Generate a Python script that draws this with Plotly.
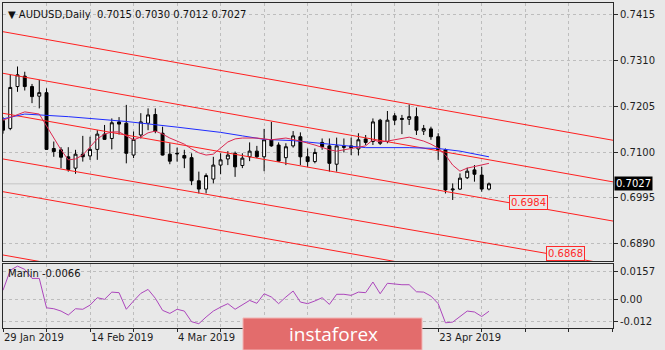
import plotly.graph_objects as go

# ---- AUDUSD daily bars (bar 0 = 29 Jan 2019) ----
bars = list(range(68))
opens = [0.7172, 0.7154, 0.7250, 0.7274, 0.7250, 0.7228, 0.7236, 0.7108, 0.7105, 0.7089,
         0.7063, 0.7095, 0.7091, 0.7106, 0.7141, 0.7131, 0.7169, 0.7166, 0.7093, 0.7139,
         0.7166, 0.7186, 0.7143, 0.7095, 0.7097, 0.7092, 0.7087, 0.7034, 0.7015, 0.7038,
         0.7070, 0.7084, 0.7097, 0.7069, 0.7089, 0.7102, 0.7089, 0.7128, 0.7116, 0.7087,
         0.7114, 0.7135, 0.7089, 0.7078, 0.7122, 0.7114, 0.7072, 0.7113, 0.7114, 0.7107,
         0.7130, 0.7124, 0.7173, 0.7124, 0.7183, 0.7177, 0.7175, 0.7181, 0.7148, 0.7153,
         0.7135, 0.7105, 0.7013, 0.7015, 0.7041, 0.7059, 0.7047, 0.7015]
highs = [0.7180, 0.7277, 0.7296, 0.7284, 0.7256, 0.7265, 0.7246, 0.7124, 0.7111, 0.7111,
         0.7105, 0.7137, 0.7135, 0.7150, 0.7162, 0.7177, 0.7180, 0.7208, 0.7147, 0.7189,
         0.7200, 0.7200, 0.7158, 0.7120, 0.7110, 0.7105, 0.7097, 0.7055, 0.7051, 0.7089,
         0.7097, 0.7102, 0.7101, 0.7097, 0.7122, 0.7114, 0.7153, 0.7169, 0.7122, 0.7120,
         0.7148, 0.7145, 0.7108, 0.7108, 0.7131, 0.7131, 0.7133, 0.7131, 0.7133, 0.7143,
         0.7139, 0.7177, 0.7176, 0.7194, 0.7189, 0.7185, 0.7209, 0.7202, 0.7162, 0.7158,
         0.7143, 0.7108, 0.7028, 0.7051, 0.7064, 0.7070, 0.7066, 0.7030]
lows = [0.7142, 0.7150, 0.7238, 0.7241, 0.7212, 0.7200, 0.7105, 0.7089, 0.7063, 0.7055,
        0.7050, 0.7078, 0.7082, 0.7082, 0.7128, 0.7106, 0.7140, 0.7074, 0.7086, 0.7131,
        0.7150, 0.7143, 0.7092, 0.7072, 0.7078, 0.7063, 0.7024, 0.7005, 0.7005, 0.7028,
        0.7049, 0.7070, 0.7043, 0.7063, 0.7079, 0.7086, 0.7056, 0.7112, 0.7078, 0.7070,
        0.7110, 0.7070, 0.7066, 0.7074, 0.7105, 0.7055, 0.7055, 0.7099, 0.7093, 0.7092,
        0.7116, 0.7116, 0.7116, 0.7120, 0.7162, 0.7141, 0.7162, 0.7139, 0.7139, 0.7128,
        0.7082, 0.7005, 0.6990, 0.7013, 0.7038, 0.7032, 0.7009, 0.7012]
closes = [0.7150, 0.7248, 0.7277, 0.7250, 0.7227, 0.7236, 0.7106, 0.7101, 0.7088, 0.7060,
          0.7095, 0.7089, 0.7106, 0.7141, 0.7129, 0.7167, 0.7164, 0.7097, 0.7129, 0.7169,
          0.7185, 0.7148, 0.7093, 0.7079, 0.7096, 0.7086, 0.7034, 0.7015, 0.7046, 0.7070,
          0.7082, 0.7093, 0.7066, 0.7086, 0.7102, 0.7089, 0.7128, 0.7114, 0.7079, 0.7112,
          0.7137, 0.7089, 0.7078, 0.7099, 0.7112, 0.7074, 0.7114, 0.7111, 0.7110, 0.7128,
          0.7122, 0.7169, 0.7120, 0.7173, 0.7173, 0.7175, 0.7181, 0.7150, 0.7154, 0.7135,
          0.7105, 0.7013, 0.7015, 0.7040, 0.7056, 0.7049, 0.7015, 0.7027]

# ---- Marlin oscillator ----
marlin = [0.0050, 0.0161, 0.0184, 0.0166, 0.0116, 0.0116, -0.0047, -0.0052, -0.0065, -0.0087,
          -0.0052, -0.0055, -0.0032, 0.0009, 0.0000, 0.0040, 0.0037, -0.0055, -0.0009, 0.0033,
          0.0055, 0.0006, -0.0061, -0.0078, -0.0055, -0.0065, -0.0124, -0.0135, -0.0098, -0.0065,
          -0.0043, -0.0024, -0.0055, -0.0028, -0.0006, -0.0022, 0.0031, 0.0013, -0.0024, 0.0013,
          0.0046, -0.0015, -0.0024, -0.0009, 0.0009, -0.0028, 0.0028, 0.0028, 0.0022, 0.0040,
          0.0037, 0.0096, 0.0031, 0.0089, 0.0083, 0.0081, 0.0081, 0.0042, 0.0040, 0.0018,
          -0.0024, -0.0130, -0.0126, -0.0093, -0.0065, -0.0070, -0.0095, -0.0066]

# ---- moving averages ----
slow_ma_bars = [0, 3, 9, 17, 24, 30, 33, 36, 40, 43, 47, 50, 56, 60, 63, 67]
slow_ma = [0.7176, 0.7187, 0.7181, 0.7170, 0.7157, 0.7145, 0.7137, 0.7129, 0.7126, 0.7121,
           0.7115, 0.7110, 0.7110, 0.7108, 0.7102, 0.7089]
fast_ma_bars = [0, 3, 5, 6, 7, 8, 9, 10, 11, 12, 13, 14, 15, 16, 17, 18, 19, 20, 21, 22,
                23, 24, 25, 26, 27, 28, 29, 30, 31, 32, 33, 35, 37, 39, 41, 43, 45, 46, 47, 48,
                50, 51, 52, 53, 55, 56, 58, 59, 60, 61, 62, 63, 64, 65, 66, 67]
fast_ma = [0.7173, 0.7192, 0.7187, 0.7160, 0.7131, 0.7105, 0.7082, 0.7084, 0.7093, 0.7112,
           0.7130, 0.7141, 0.7146, 0.7146, 0.7137, 0.7128, 0.7134, 0.7144, 0.7148, 0.7141,
           0.7132, 0.7125, 0.7118, 0.7107, 0.7098, 0.7093, 0.7095, 0.7109, 0.7123, 0.7130,
           0.7132, 0.7132, 0.7128, 0.7132, 0.7125, 0.7116, 0.7105, 0.7102, 0.7105, 0.7107,
           0.7114, 0.7128, 0.7123, 0.7125, 0.7130, 0.7134, 0.7125, 0.7118, 0.7109, 0.7093,
           0.7070, 0.7056, 0.7063, 0.7067, 0.7070, 0.7074]

# ---- descending channel lines: price at the first and last bar position ----
channel_bars = [0, 84.1]
channel_lines = [
    [0.73758, 0.71269],
    [0.72804, 0.70315],
    [0.71887, 0.69417],
    [0.70840, 0.68411],
    [0.70090, 0.67600],
    [0.68639, 0.66150],
]
target_bars = [69.7, 74.8]
target_levels = [0.6984, 0.6868]

# ---- axis ticks ----
date_ticks = [0, 12, 24, 60]
date_labels = ["29 Jan 2019", "14 Feb 2019", "4 Mar 2019", "23 Apr 2019"]
grid_bars = list(range(0, 85, 6))
price_ticks = [0.6890, 0.6995, 0.7100, 0.7205, 0.7310, 0.7415]
marlin_ticks = [-0.012, 0.0, 0.0157]
marlin_labels = ["-0.012", "0.00", "0.0157"]

W, H = 665, 350
BG = "#e8e8e8"
GRID = "#bdbdbd"
FRAME = "#2a2a2a"
FONT = "DejaVu Sans"

fig = go.Figure()

for line in channel_lines:
    fig.add_trace(go.Scatter(x=channel_bars, y=line, mode="lines",
                             line=dict(color="#ff1f1f", width=1),
                             hoverinfo="skip", xaxis="x", yaxis="y"))

fig.add_trace(go.Scatter(x=slow_ma_bars, y=slow_ma, mode="lines",
                         line=dict(color="#1f2cff", width=1),
                         hoverinfo="skip", xaxis="x", yaxis="y"))
fig.add_trace(go.Scatter(x=fast_ma_bars, y=fast_ma, mode="lines",
                         line=dict(color="#dc2850", width=1),
                         hoverinfo="skip", xaxis="x", yaxis="y"))

fig.add_trace(go.Candlestick(
    x=bars, open=opens, high=highs, low=lows, close=closes,
    increasing=dict(line=dict(color="#000000", width=1), fillcolor="#ffffff"),
    decreasing=dict(line=dict(color="#000000", width=1), fillcolor="#000000"),
    whiskerwidth=0, xaxis="x", yaxis="y", hoverinfo="skip"))

fig.add_trace(go.Scatter(x=bars, y=marlin, mode="lines",
                         line=dict(color="#ac46bc", width=1),
                         hoverinfo="skip", xaxis="x2", yaxis="y2"))

x_dom = [3 / W, 613 / W]
xrange = [0, 84.1]
axis_font = dict(family=FONT, size=10, color="#1e1e1e")

fig.update_layout(
    width=W, height=H,
    margin=dict(l=0, r=0, t=0, b=0),
    paper_bgcolor=BG, plot_bgcolor=BG,
    showlegend=False,
    boxgap=0.42,
    font=axis_font,
    xaxis=dict(domain=x_dom, range=xrange, anchor="y",
               tickvals=grid_bars, showticklabels=False, ticks="",
               showgrid=True, gridcolor=GRID, griddash="3px,3px", gridwidth=1,
               showline=True, mirror=True, linecolor=FRAME, linewidth=1,
               zeroline=False, rangeslider=dict(visible=False), fixedrange=True),
    yaxis=dict(domain=[1 - 261 / H, 1 - 3 / H], range=[0.68501, 0.74416],
               anchor="x", side="right",
               tickvals=price_ticks, ticktext=[f"{p:.4f}" for p in price_ticks],
               ticks="outside", ticklen=4, tickcolor=FRAME, tickfont=axis_font,
               showgrid=True, gridcolor=GRID, griddash="3px,3px", gridwidth=1,
               showline=True, mirror=True, linecolor=FRAME, linewidth=1,
               zeroline=False, fixedrange=True),
    xaxis2=dict(domain=x_dom, range=xrange, anchor="y2",
                tickvals=grid_bars,
                ticktext=[date_labels[date_ticks.index(b)] if b in date_ticks else ""
                          for b in grid_bars],
                ticklabelposition="outside right",
                ticks="outside", ticklen=3, tickcolor=FRAME, tickfont=axis_font,
                showgrid=True, gridcolor=GRID, griddash="3px,3px", gridwidth=1,
                showline=True, mirror=True, linecolor=FRAME, linewidth=1,
                zeroline=False, fixedrange=True),
    yaxis2=dict(domain=[1 - 328 / H, 1 - 264 / H], range=[-0.01588, 0.01958],
                anchor="x2", side="right",
                tickvals=marlin_ticks, ticktext=marlin_labels,
                ticks="outside", ticklen=4, tickcolor=FRAME, tickfont=axis_font,
                showgrid=True, gridcolor=GRID, griddash="3px,3px", gridwidth=1,
                showline=True, mirror=True, linecolor=FRAME, linewidth=1,
                zeroline=False, fixedrange=True),
)

# last-price line across the price panel
fig.add_shape(type="line", xref="x", yref="y", x0=xrange[0], x1=xrange[1],
              y0=closes[-1], y1=closes[-1], line=dict(color="#c4c4c4", width=1),
              layer="below")

annotations = [
    dict(text="\u25bc AUDUSD,Daily\u00a0\u00a0" + " ".join(
             f"{v:.4f}" for v in (opens[-1], highs[-1], lows[-1], closes[-1])),
         xref="paper", yref="paper", x=6 / W, y=1 - 14 / H,
         xanchor="left", yanchor="middle", showarrow=False,
         font=dict(family=FONT, size=10, color="#111111")),
    dict(text=f"Marlin {marlin[-1]:.4f}",
         xref="paper", yref="paper", x=6 / W, y=1 - 273 / H,
         xanchor="left", yanchor="middle", showarrow=False,
         font=dict(family=FONT, size=10, color="#111111")),
    dict(text=f"{closes[-1]:.4f}", xref="paper", yref="y",
         x=614 / W, y=closes[-1], xanchor="left", yanchor="middle",
         showarrow=False, bgcolor="#000000", borderpad=1,
         font=dict(family=FONT, size=10, color="#ffffff")),
]
for b, lvl in zip(target_bars, target_levels):
    annotations.append(dict(text=f"{lvl:.4f}", xref="x", yref="y", x=b, y=lvl,
                            xanchor="left", yanchor="middle", showarrow=False,
                            bgcolor=BG, bordercolor="#ff2a2a", borderwidth=1,
                            borderpad=1,
                            font=dict(family=FONT, size=10, color="#ff2a2a")))

# brand badge at the bottom
fig.add_shape(type="rect", xref="paper", yref="paper",
              x0=243 / W, x1=422 / W, y0=0, y1=1 - 318 / H,
              fillcolor="#e36c6c", line=dict(color="#f3b5b5", width=1), layer="above")
annotations.append(dict(text="instaforex", xref="paper", yref="paper",
                        x=333 / W, y=1 - 334 / H, xanchor="center", yanchor="middle",
                        showarrow=False,
                        font=dict(family="Open Sans", size=19, color="#ffffff")))

fig.update_layout(annotations=annotations)

fig.write_html("out.html")
